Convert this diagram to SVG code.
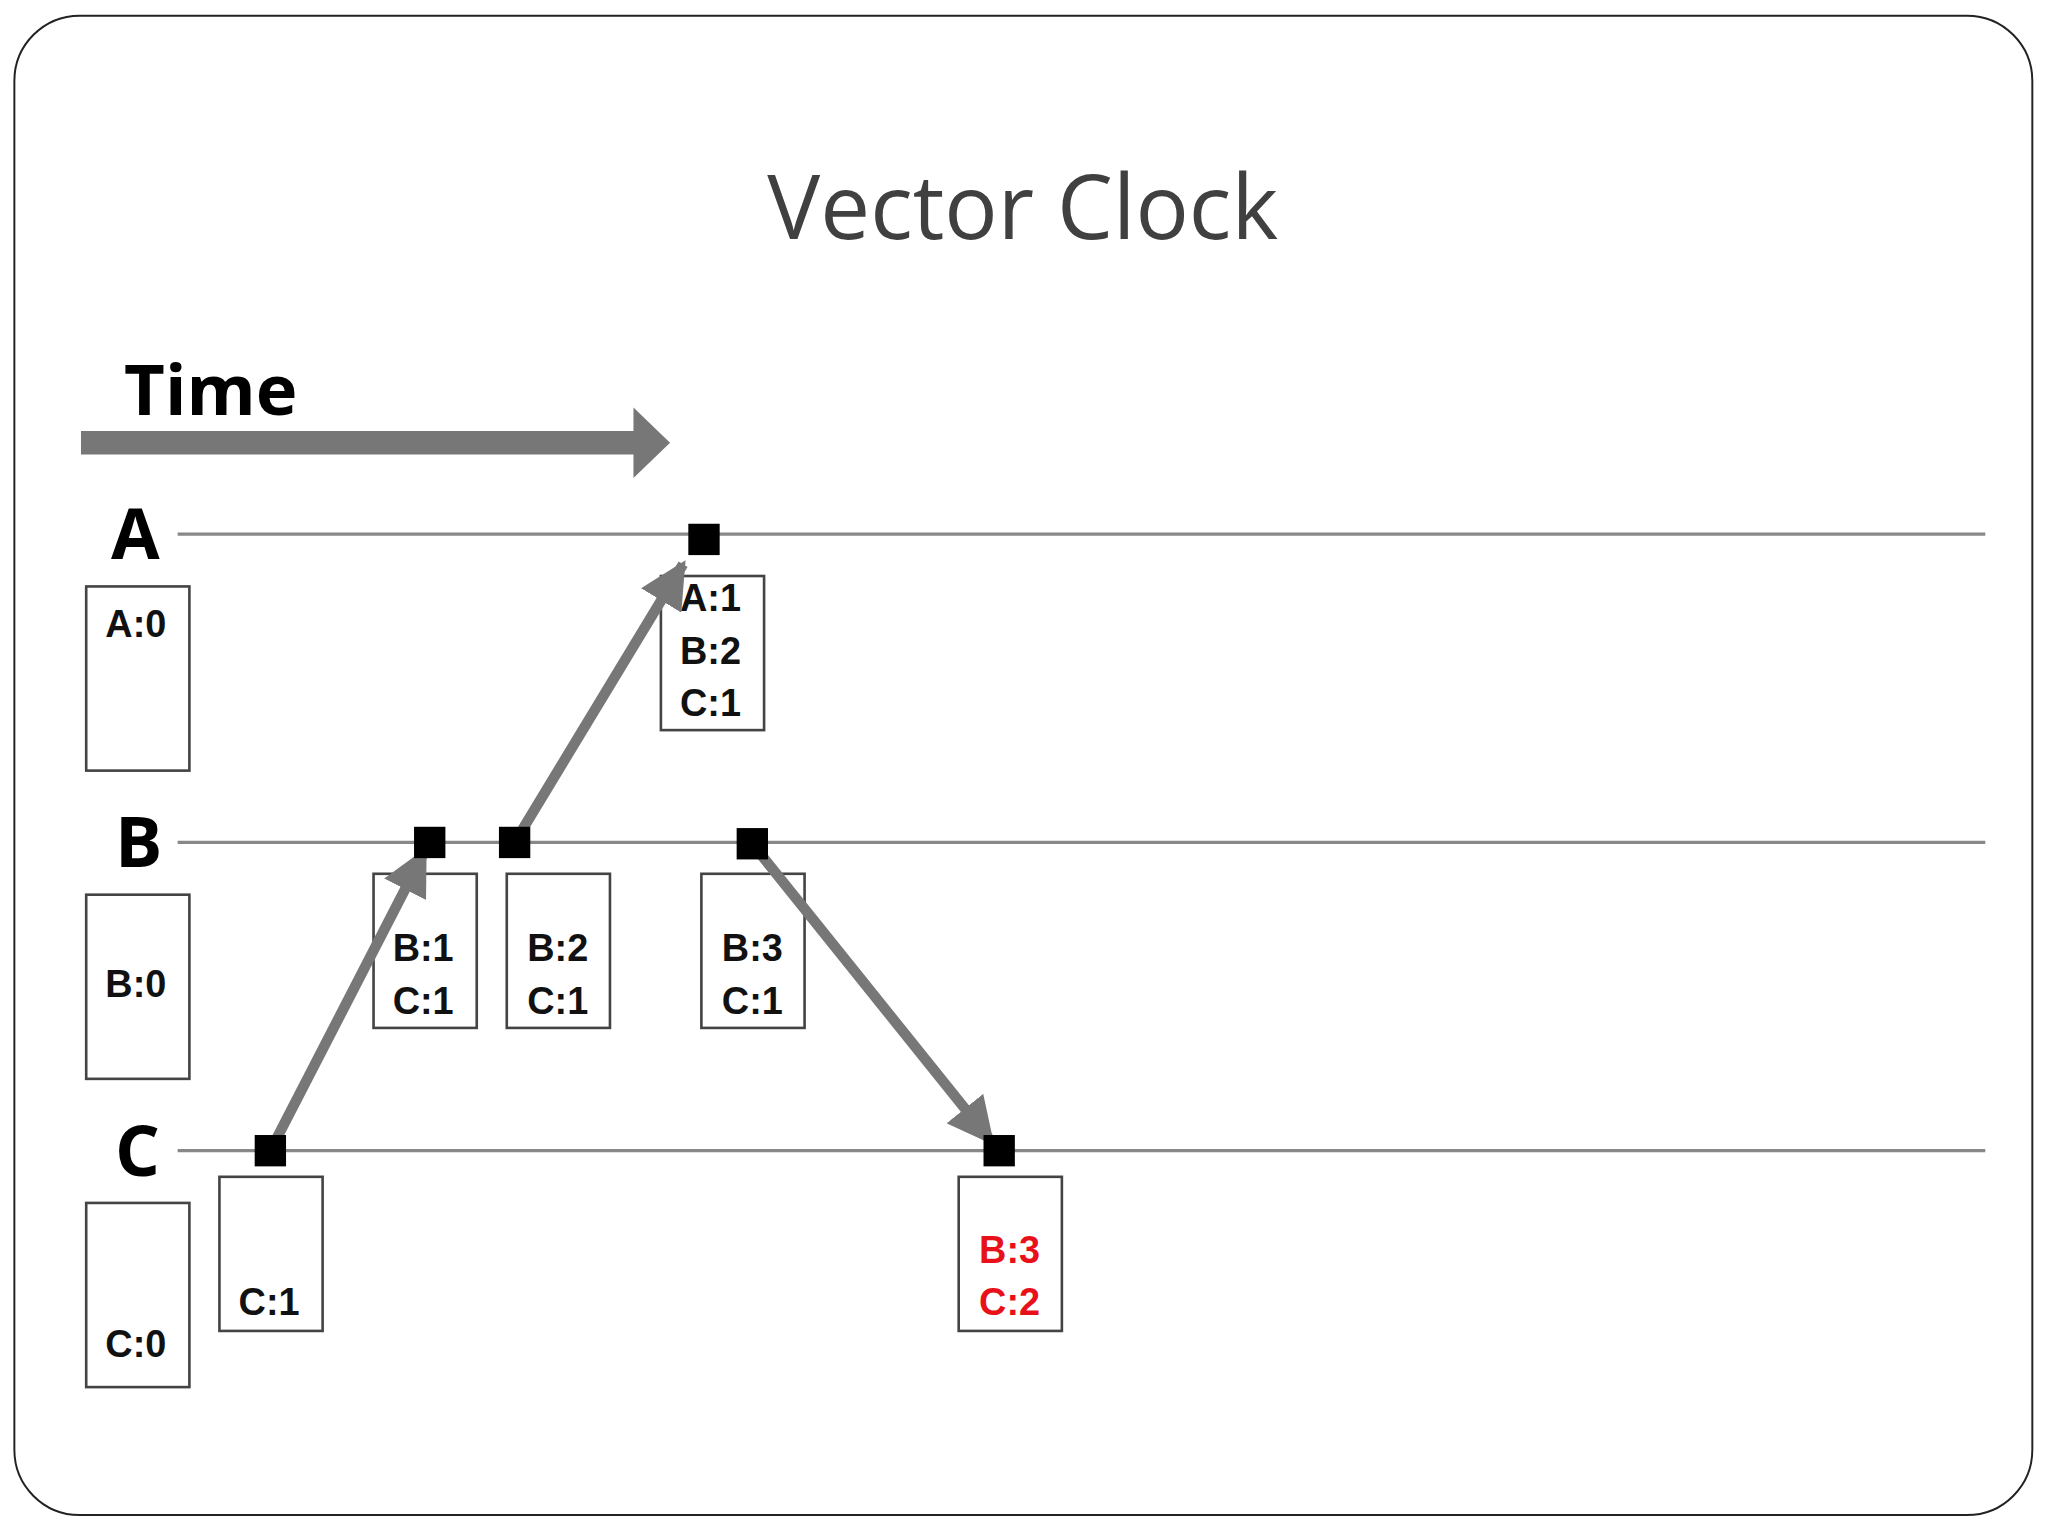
<svg xmlns="http://www.w3.org/2000/svg" width="2048" height="1536" viewBox="0 0 2048 1536">
<defs>
<style>
.box{fill:#fff;stroke:#444;stroke-width:2}
.t{font-family:"Liberation Sans",Arial,sans-serif;font-weight:bold;font-size:29px;text-anchor:middle;fill:#111}
.r{fill:#e8111a}
.lane{stroke:#888;stroke-width:2.5}
.big{font-family:"Open Sans","Liberation Sans",sans-serif;font-weight:bold;font-size:54px;fill:#000}
.msg{stroke:#777;stroke-width:8;fill:none}
.ev{fill:#000}
</style>
<marker id="ah" viewBox="0 0 10 10" refX="9" refY="5" markerWidth="4.5" markerHeight="4.5" markerUnits="strokeWidth" orient="auto"><path d="M0,0 L10,5 L0,10 z" fill="#777"/></marker>
</defs>
<rect width="2048" height="1536" fill="#fff"/>
<g transform="scale(1.30612)">
<rect x="11" y="12" width="1545" height="1148" rx="50" fill="#fff" stroke="#222" stroke-width="1.5"/>
<text x="783" y="183" font-family="'Open Sans','Liberation Sans',sans-serif" font-size="68" text-anchor="middle" fill="#404040">Vector Clock</text>
<g id="time">
<text x="95" y="318" class="big">Time</text>
<path d="M62,330 H485 V312 L513,339 L485,366 V348 H62 Z" fill="#777"/>
</g>
<g id="lanes">
<line x1="136" y1="409" x2="1520" y2="409" class="lane"/>
<line x1="136" y1="645" x2="1520" y2="645" class="lane"/>
<line x1="136" y1="881" x2="1520" y2="881" class="lane"/>
<text x="85" y="428" class="big">A</text>
<text x="88" y="664" class="big">B</text>
<text x="88" y="900" class="big">C</text>
</g>
<g id="A0"><rect x="66" y="449" width="79" height="141" class="box"/><text x="104" y="488" class="t">A:0</text></g>
<g id="B0"><rect x="66" y="685" width="79" height="141" class="box"/><text x="104" y="763" class="t">B:0</text></g>
<g id="C0"><rect x="66" y="921" width="79" height="141" class="box"/><text x="104" y="1039" class="t">C:0</text></g>
<g id="C1"><rect x="168" y="901" width="79" height="118" class="box"/><text x="206" y="1007" class="t">C:1</text></g>
<g id="B1"><rect x="286" y="669" width="79" height="118" class="box"/><text x="324" y="736" class="t">B:1</text><text x="324" y="776" class="t">C:1</text></g>
<g id="B2"><rect x="388" y="669" width="79" height="118" class="box"/><text x="427" y="736" class="t">B:2</text><text x="427" y="776" class="t">C:1</text></g>
<g id="B3"><rect x="537" y="669" width="79" height="118" class="box"/><text x="576" y="736" class="t">B:3</text><text x="576" y="776" class="t">C:1</text></g>
<g id="A1"><rect x="506" y="441" width="79" height="118" class="box"/><text x="544" y="468" class="t">A:1</text><text x="544" y="508" class="t">B:2</text><text x="544" y="548" class="t">C:1</text></g>
<g id="C2"><rect x="734" y="901" width="79" height="118" class="box"/><text x="773" y="967" class="t r">B:3</text><text x="773" y="1007" class="t r">C:2</text></g>
<g id="connectors">
<line x1="207" y1="881" x2="325" y2="652" class="msg" marker-end="url(#ah)"/>
<line x1="394" y1="645" x2="523" y2="432" class="msg" marker-end="url(#ah)"/>
<line x1="576" y1="646" x2="759" y2="874" class="msg" marker-end="url(#ah)"/>
</g>
<g id="events">
<rect x="527" y="401" width="24" height="24" class="ev"/>
<rect x="317" y="633" width="24" height="24" class="ev"/>
<rect x="382" y="633" width="24" height="24" class="ev"/>
<rect x="564" y="634" width="24" height="24" class="ev"/>
<rect x="195" y="869" width="24" height="24" class="ev"/>
<rect x="753" y="869" width="24" height="24" class="ev"/>
</g>
</g>
</svg>
